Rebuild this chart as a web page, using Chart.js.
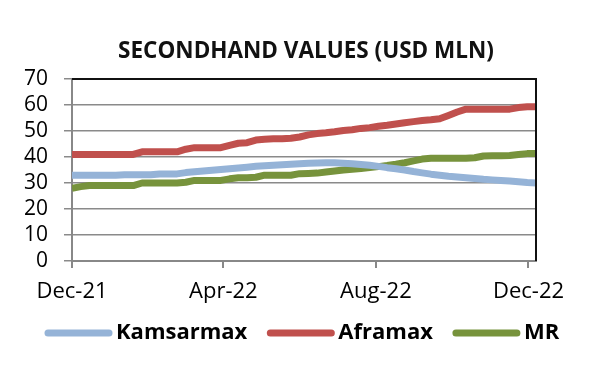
<!DOCTYPE html>
<html>
<head>
<meta charset="utf-8">
<script src="https://cdn.jsdelivr.net/npm/chart.js@4.4.1/dist/chart.umd.min.js"></script>
<style>
html,body{margin:0;padding:0;background:#fff;}
#wrap{width:600px;height:380px;}
</style>
</head>
<body>
<div id="wrap"><canvas id="c" width="600" height="380"></canvas></div>
<script>
// Weekly observation dates
const dates = [
 '2021-12-01','2021-12-08','2021-12-15','2021-12-22','2021-12-29',
 '2022-01-05','2022-01-12','2022-01-19','2022-01-26',
 '2022-02-02','2022-02-09','2022-02-16','2022-02-23',
 '2022-03-02','2022-03-09','2022-03-16','2022-03-23','2022-03-30',
 '2022-04-06','2022-04-13','2022-04-20','2022-04-27',
 '2022-05-04','2022-05-11','2022-05-18','2022-05-25',
 '2022-06-01','2022-06-08','2022-06-15','2022-06-22','2022-06-29',
 '2022-07-06','2022-07-13','2022-07-20','2022-07-27',
 '2022-08-03','2022-08-10','2022-08-17','2022-08-24','2022-08-31',
 '2022-09-07','2022-09-14','2022-09-21','2022-09-28',
 '2022-10-05','2022-10-12','2022-10-19','2022-10-26',
 '2022-11-02','2022-11-09','2022-11-16','2022-11-23','2022-11-30',
 '2022-12-07'
];
const kamsarmax = [
 33,33,33,33,33,33,33.2,33.2,33.2,33.2,33.5,33.5,33.5,34,34.3,34.6,34.9,35.2,
 35.5,35.8,36.1,36.4,36.6,36.8,37,37.2,37.4,37.6,37.7,37.8,37.8,37.6,37.4,37.1,
 36.8,36.4,35.9,35.5,35,34.4,33.9,33.4,33.0,32.6,32.3,32.0,31.7,31.4,31.2,31.0,
 30.8,30.5,30.2,30.0
];
const aframax = [
 41,41,41,41,41,41,41,41,42,42,42,42,42,43,43.6,43.6,43.6,43.6,
 44.5,45.3,45.5,46.5,46.8,47,47,47.2,47.7,48.5,49,49.3,49.7,50.2,50.5,51,
 51.3,51.8,52.2,52.7,53.2,53.6,54,54.3,54.7,56,57.3,
 58.4,58.4,58.4,58.4,58.4,58.4,59,59.3,59.3
];
const mr = [
 28,28.6,29,29,29,29,29,29,30,30,30,30,30,30.3,31,31,31,31,
 31.6,32,32,32.2,33,33,33,33,33.6,33.7,33.8,34.2,34.6,35,35.3,35.6,
 36,36.3,36.7,37.2,37.8,38.5,39.2,39.5,39.5,39.5,39.5,39.5,39.7,40.4,40.5,40.5,
 40.6,41,41.3,41.3
];
const tickDates = ['2021-12-01','2022-04-01','2022-08-01','2022-12-01'];
const tickLabels = ['Dec-21','Apr-22','Aug-22','Dec-22'];
const yTicks = [0,10,20,30,40,50,60,70];
const TITLE = 'SECONDHAND VALUES (USD MLN)';

const FONT = '"Open Sans", Lato, sans-serif';
const origin = Date.parse(dates[0]);
const dayOf = d => (Date.parse(d) - origin) / 86400000;
const pts = arr => arr.map((v,i) => ({x: dayOf(dates[i]), y: v}));
const tickPos = tickDates.map(dayOf);

const frame = {
  id:'frame',
  afterDatasetsDraw(chart){
    const {ctx, chartArea:a} = chart;
    ctx.save();
    ctx.strokeStyle = '#111';
    ctx.lineWidth = 2;
    ctx.beginPath();
    ctx.moveTo(a.left, a.top); ctx.lineTo(a.right, a.top); ctx.lineTo(a.right, a.bottom);
    ctx.stroke();
    ctx.restore();
  }
};
const titleLegend = {
  id:'titleLegend',
  afterDraw(chart){
    const ctx = chart.ctx;
    ctx.save();
    ctx.textBaseline = 'middle';
    // title
    ctx.font = 'bold 22.5px ' + FONT;
    ctx.fillStyle = '#111';
    ctx.textAlign = 'center';
    ctx.fillText(TITLE, 306, 52);
    // legend
    ctx.textAlign = 'left';
    ctx.font = 'bold 22px ' + FONT;
    let x = 45; const y = 333;
    chart.data.datasets.forEach(ds => {
      ctx.strokeStyle = ds.borderColor;
      ctx.lineWidth = 7; ctx.lineCap = 'round';
      ctx.beginPath(); ctx.moveTo(x+3, y); ctx.lineTo(x+64, y); ctx.stroke();
      x += 71;
      ctx.fillStyle = '#000';
      ctx.fillText(ds.label, x, y);
      x += ctx.measureText(ds.label).width + 20;
    });
    ctx.restore();
  }
};

new Chart(document.getElementById('c'), {
  type:'line',
  data:{
    datasets:[
      {label:'Kamsarmax', data:pts(kamsarmax), borderColor:'#95b3d7', backgroundColor:'#95b3d7'},
      {label:'Aframax', data:pts(aframax), borderColor:'#c0504d', backgroundColor:'#c0504d'},
      {label:'MR', data:pts(mr), borderColor:'#77933c', backgroundColor:'#77933c'}
    ]
  },
  options:{
    responsive:false, animation:false,
    layout:{padding:{left:0,right:64,top:79,bottom:73}},
    elements:{line:{borderWidth:7, tension:0, borderCapStyle:'butt', borderJoinStyle:'round'}, point:{radius:0}},
    plugins:{
      legend:{display:false},
      tooltip:{enabled:false},
      title:{display:false}
    },
    scales:{
      x:{type:'linear', min:0, max:dayOf(dates[dates.length-1]),
        afterBuildTicks(s){ s.ticks = tickPos.map(v => ({value:v})); },
        afterFit(s){ s.height = 46; },
        ticks:{callback:(v)=>{const i=tickPos.indexOf(v); return i>=0?tickLabels[i]:'';},
          color:'#000', font:{family:FONT, size:22}, padding:11, maxRotation:0, autoSkip:false},
        grid:{drawOnChartArea:false, drawTicks:true, tickLength:7, color:'#888', lineWidth:2},
        border:{color:'#888', width:2}
      },
      y:{min:0, max:70,
        afterBuildTicks(s){ s.ticks = yTicks.map(v => ({value:v})); },
        afterFit(s){ s.width = 72; },
        ticks:{color:'#000', font:{family:FONT, size:21}, padding:16, autoSkip:false},
        grid:{color:'#8a8a8a', lineWidth:1.5, tickLength:8},
        border:{color:'#888', width:2}
      }
    }
  },
  plugins:[frame, titleLegend]
});
</script>
</body>
</html>
